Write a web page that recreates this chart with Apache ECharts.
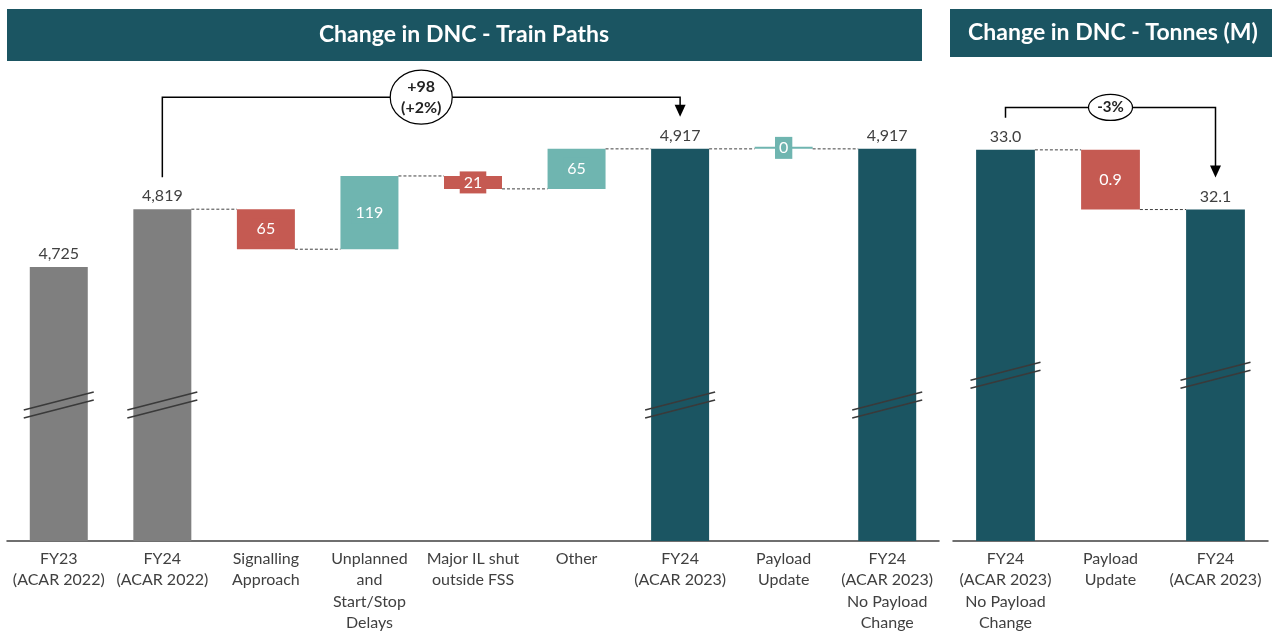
<!DOCTYPE html>
<html>
<head>
<meta charset="utf-8">
<script src="https://cdn.jsdelivr.net/npm/echarts@6/dist/echarts.min.js"></script>
<style>
  html, body { margin: 0; padding: 0; background: #fff; }
  #chart { width: 1272px; height: 634px; }
</style>
</head>
<body>
<div id="chart"></div>
<script>
// ---- data ----
const leftCats = [
  "FY23\n(ACAR 2022)",
  "FY24\n(ACAR 2022)",
  "Signalling\nApproach",
  "Unplanned\nand\nStart/Stop\nDelays",
  "Major IL shut\noutside FSS",
  "Other",
  "FY24\n(ACAR 2023)",
  "Payload\nUpdate",
  "FY24\n(ACAR 2023)\nNo Payload\nChange"
];
const leftTotals = [4725, 4819, null, null, null, null, 4917, null, 4917];
const leftDeltas = [null, null, -65, 119, -21, 65, null, 0, null];
const leftBracket = [1, 6];       // from category, to category
const leftBracketLevel = 5001;    // height of the bracket line
const leftBreakAt = 4501;

const rightCats = [
  "FY24\n(ACAR 2023)\nNo Payload\nChange",
  "Payload\nUpdate",
  "FY24\n(ACAR 2023)"
];
const rightTotals = [33.0, null, 32.1];
const rightDeltas = [null, -0.9, null];
const rightBracket = [0, 2];
const rightBracketLevel = 33.64;
const rightBreakAt = 29.6;

// ---- colours ----
const GREY = "#7f7f7f";
const DARK = "#1b5562";
const RED = "#c55a52";
const TEAL = "#6fb5b0";
const TXT = "#404040";
const FONT = "Lato, 'Noto Sans', sans-serif";

function waterfall(totals, deltas) {
  let run = 0;
  const base = [], delta = [], levels = [];
  totals.forEach(function (t, i) {
    if (t != null) {
      run = t;
      base.push("-");
      delta.push("-");
    } else {
      const d = deltas[i];
      base.push(d < 0 ? run + d : run);
      delta.push({ value: Math.abs(d), itemStyle: { color: d < 0 ? RED : TEAL },
                   label: { backgroundColor: d < 0 ? RED : TEAL } });
      run += d;
    }
    levels.push(run);
  });
  // connectors wherever a delta is involved
  const links = [];
  for (let i = 0; i < totals.length - 1; i++) {
    if (totals[i] == null || totals[i + 1] == null) links.push([i, levels[i]]);
  }
  return { base: base, delta: delta, links: links };
}

const L = waterfall(leftTotals, leftDeltas);
const R = waterfall(rightTotals, rightDeltas);

function totalsData(totals, colorFn) {
  return totals.map(function (t, i) {
    return t == null ? "-" : { value: t, itemStyle: { color: colorFn(i) } };
  });
}

function linkRender(params, api) {
  const p = api.coord([api.value(0), api.value(1)]);
  const band = api.size([1, 0])[0];
  const bw = band * 0.56;
  return {
    type: "line",
    shape: { x1: p[0] + bw / 2, y1: p[1], x2: p[0] + band - bw / 2, y2: p[1] },
    style: { stroke: TXT, lineWidth: 1, lineDash: [3, 2] }
  };
}

function breakRender(params, api) {
  const p = api.coord([api.value(0), api.value(1)]);
  const lines = [-4, 4].map(function (off) {
    return {
      type: "line",
      shape: { x1: p[0] - 35, y1: p[1] + off + 9, x2: p[0] + 35, y2: p[1] + off - 9 },
      style: { stroke: "#3a3a3a", lineWidth: 1.5 }
    };
  });
  return { type: "group", children: lines };
}

function bracketRender(opts) {
  return function (params, api) {
    const i0 = api.value(0), i1 = api.value(1);
    const v0 = api.value(2), v1 = api.value(3);
    const lvl = api.coord([i0, api.value(4)])[1];
    const a = api.coord([i0, v0]);
    const b = api.coord([i1, v1]);
    const y0 = a[1] - 32, y1 = b[1] - 32;
    const mx = (a[0] + b[0]) / 2;
    const pct = Math.round((v1 - v0) / v0 * 100);
    const diff = v1 - v0;
    const txt = opts.showDiff
      ? (diff >= 0 ? "+" : "") + Math.round(diff) + "\n(" + (pct >= 0 ? "+" : "") + pct + "%)"
      : (pct >= 0 ? "+" : "") + pct + "%";
    return {
      type: "group",
      children: [
        { type: "polyline", shape: { points: [[a[0], y0], [a[0], lvl], [b[0], lvl], [b[0], y1 - 11]] },
          style: { stroke: "#000", lineWidth: 1.5, fill: null } },
        { type: "polygon", shape: { points: [[b[0] - 5.5, y1 - 12], [b[0] + 5.5, y1 - 12], [b[0], y1]] },
          style: { fill: "#000" } },
        { type: "ellipse", shape: { cx: mx, cy: lvl, rx: opts.rx, ry: opts.ry },
          style: { fill: "#fff", stroke: "#000", lineWidth: 1.2 } },
        { type: "text", style: { text: txt, x: mx, y: lvl, align: "center", verticalAlign: "middle",
          fill: "#222", font: "bold " + opts.fs + "px " + FONT, lineHeight: opts.fs + 5 } }
      ]
    };
  };
}

const labelStyle = { color: TXT, fontSize: 16, fontFamily: FONT };

const chart = echarts.init(document.getElementById("chart"));
const option = {
  animation: false,
  textStyle: { fontFamily: FONT },
  graphic: [
    { type: "rect", shape: { x: 7, y: 9, width: 915, height: 52 }, style: { fill: DARK } },
    { type: "text", x: 464, y: 35, style: { text: "Change in DNC - Train Paths", fill: "#fff",
      font: "bold 23px " + FONT, align: "center", verticalAlign: "middle" } },
    { type: "rect", shape: { x: 950, y: 9, width: 322, height: 48 }, style: { fill: DARK } },
    { type: "text", x: 1113, y: 33, style: { text: "Change in DNC - Tonnes (M)", fill: "#fff",
      font: "bold 23px " + FONT, align: "center", verticalAlign: "middle" } }
  ],
  grid: [
    { left: 7, width: 932, top: 67, height: 477 },
    { left: 953, width: 315, top: 67, height: 477 }
  ],
  xAxis: [0, 1].map(function (g) {
    return {
      type: "category", gridIndex: g, data: g === 0 ? leftCats : rightCats,
      axisTick: { show: false },
      axisLine: { lineStyle: { color: TXT, width: 1.5 } },
      axisLabel: { interval: 0, color: TXT, fontSize: 16, lineHeight: 21.5, margin: 7, fontFamily: FONT }
    };
  }),
  yAxis: [
    { type: "value", gridIndex: 0, min: 4280, max: 5050, show: false },
    { type: "value", gridIndex: 1, min: 27.1, max: 34.25, show: false }
  ],
  series: [
    // left chart
    { type: "bar", xAxisIndex: 0, yAxisIndex: 0, stack: "L", barWidth: "56%", barGap: "-100%",
      data: L.base, itemStyle: { color: "transparent" }, silent: true },
    { type: "bar", xAxisIndex: 0, yAxisIndex: 0, stack: "L", barWidth: "56%", barGap: "-100%",
      barMinHeight: 2, data: L.delta,
      label: { show: true, position: "inside", color: "#fff", fontSize: 16, fontFamily: FONT, padding: [3, 4] } },
    { type: "bar", xAxisIndex: 0, yAxisIndex: 0, barWidth: "56%", barGap: "-100%",
      data: totalsData(leftTotals, function (i) { return i < 2 ? GREY : DARK; }),
      label: Object.assign({ show: true, position: "top", distance: 5,
        formatter: function (p) { return p.value.toLocaleString("en-US"); } }, labelStyle) },
    { type: "custom", xAxisIndex: 0, yAxisIndex: 0, z: 5, renderItem: linkRender, data: L.links },
    { type: "custom", xAxisIndex: 0, yAxisIndex: 0, z: 6, renderItem: breakRender,
      data: leftTotals.map(function (t, i) { return t == null ? null : [i, leftBreakAt]; }).filter(Boolean) },
    { type: "custom", xAxisIndex: 0, yAxisIndex: 0, z: 7,
      renderItem: bracketRender({ rx: 31, ry: 27, fs: 16, showDiff: true }),
      data: [[leftBracket[0], leftBracket[1], leftTotals[leftBracket[0]], leftTotals[leftBracket[1]], leftBracketLevel]] },

    // right chart
    { type: "bar", xAxisIndex: 1, yAxisIndex: 1, stack: "R", barWidth: "56%", barGap: "-100%",
      data: R.base, itemStyle: { color: "transparent" }, silent: true },
    { type: "bar", xAxisIndex: 1, yAxisIndex: 1, stack: "R", barWidth: "56%", barGap: "-100%",
      data: R.delta,
      label: { show: true, position: "inside", color: "#fff", fontSize: 16, fontFamily: FONT,
        formatter: function (p) { return p.value.toFixed(1); } } },
    { type: "bar", xAxisIndex: 1, yAxisIndex: 1, barWidth: "56%", barGap: "-100%",
      data: totalsData(rightTotals, function () { return DARK; }),
      label: Object.assign({ show: true, position: "top", distance: 5,
        formatter: function (p) { return p.value.toFixed(1); } }, labelStyle) },
    { type: "custom", xAxisIndex: 1, yAxisIndex: 1, z: 5, renderItem: linkRender, data: R.links },
    { type: "custom", xAxisIndex: 1, yAxisIndex: 1, z: 6, renderItem: breakRender,
      data: rightTotals.map(function (t, i) { return t == null ? null : [i, rightBreakAt]; }).filter(Boolean) },
    { type: "custom", xAxisIndex: 1, yAxisIndex: 1, z: 7,
      renderItem: bracketRender({ rx: 22, ry: 13, fs: 15, showDiff: false }),
      data: [[rightBracket[0], rightBracket[1], rightTotals[rightBracket[0]], rightTotals[rightBracket[1]], rightBracketLevel]] }
  ]
};
chart.setOption(option);
</script>
</body>
</html>
